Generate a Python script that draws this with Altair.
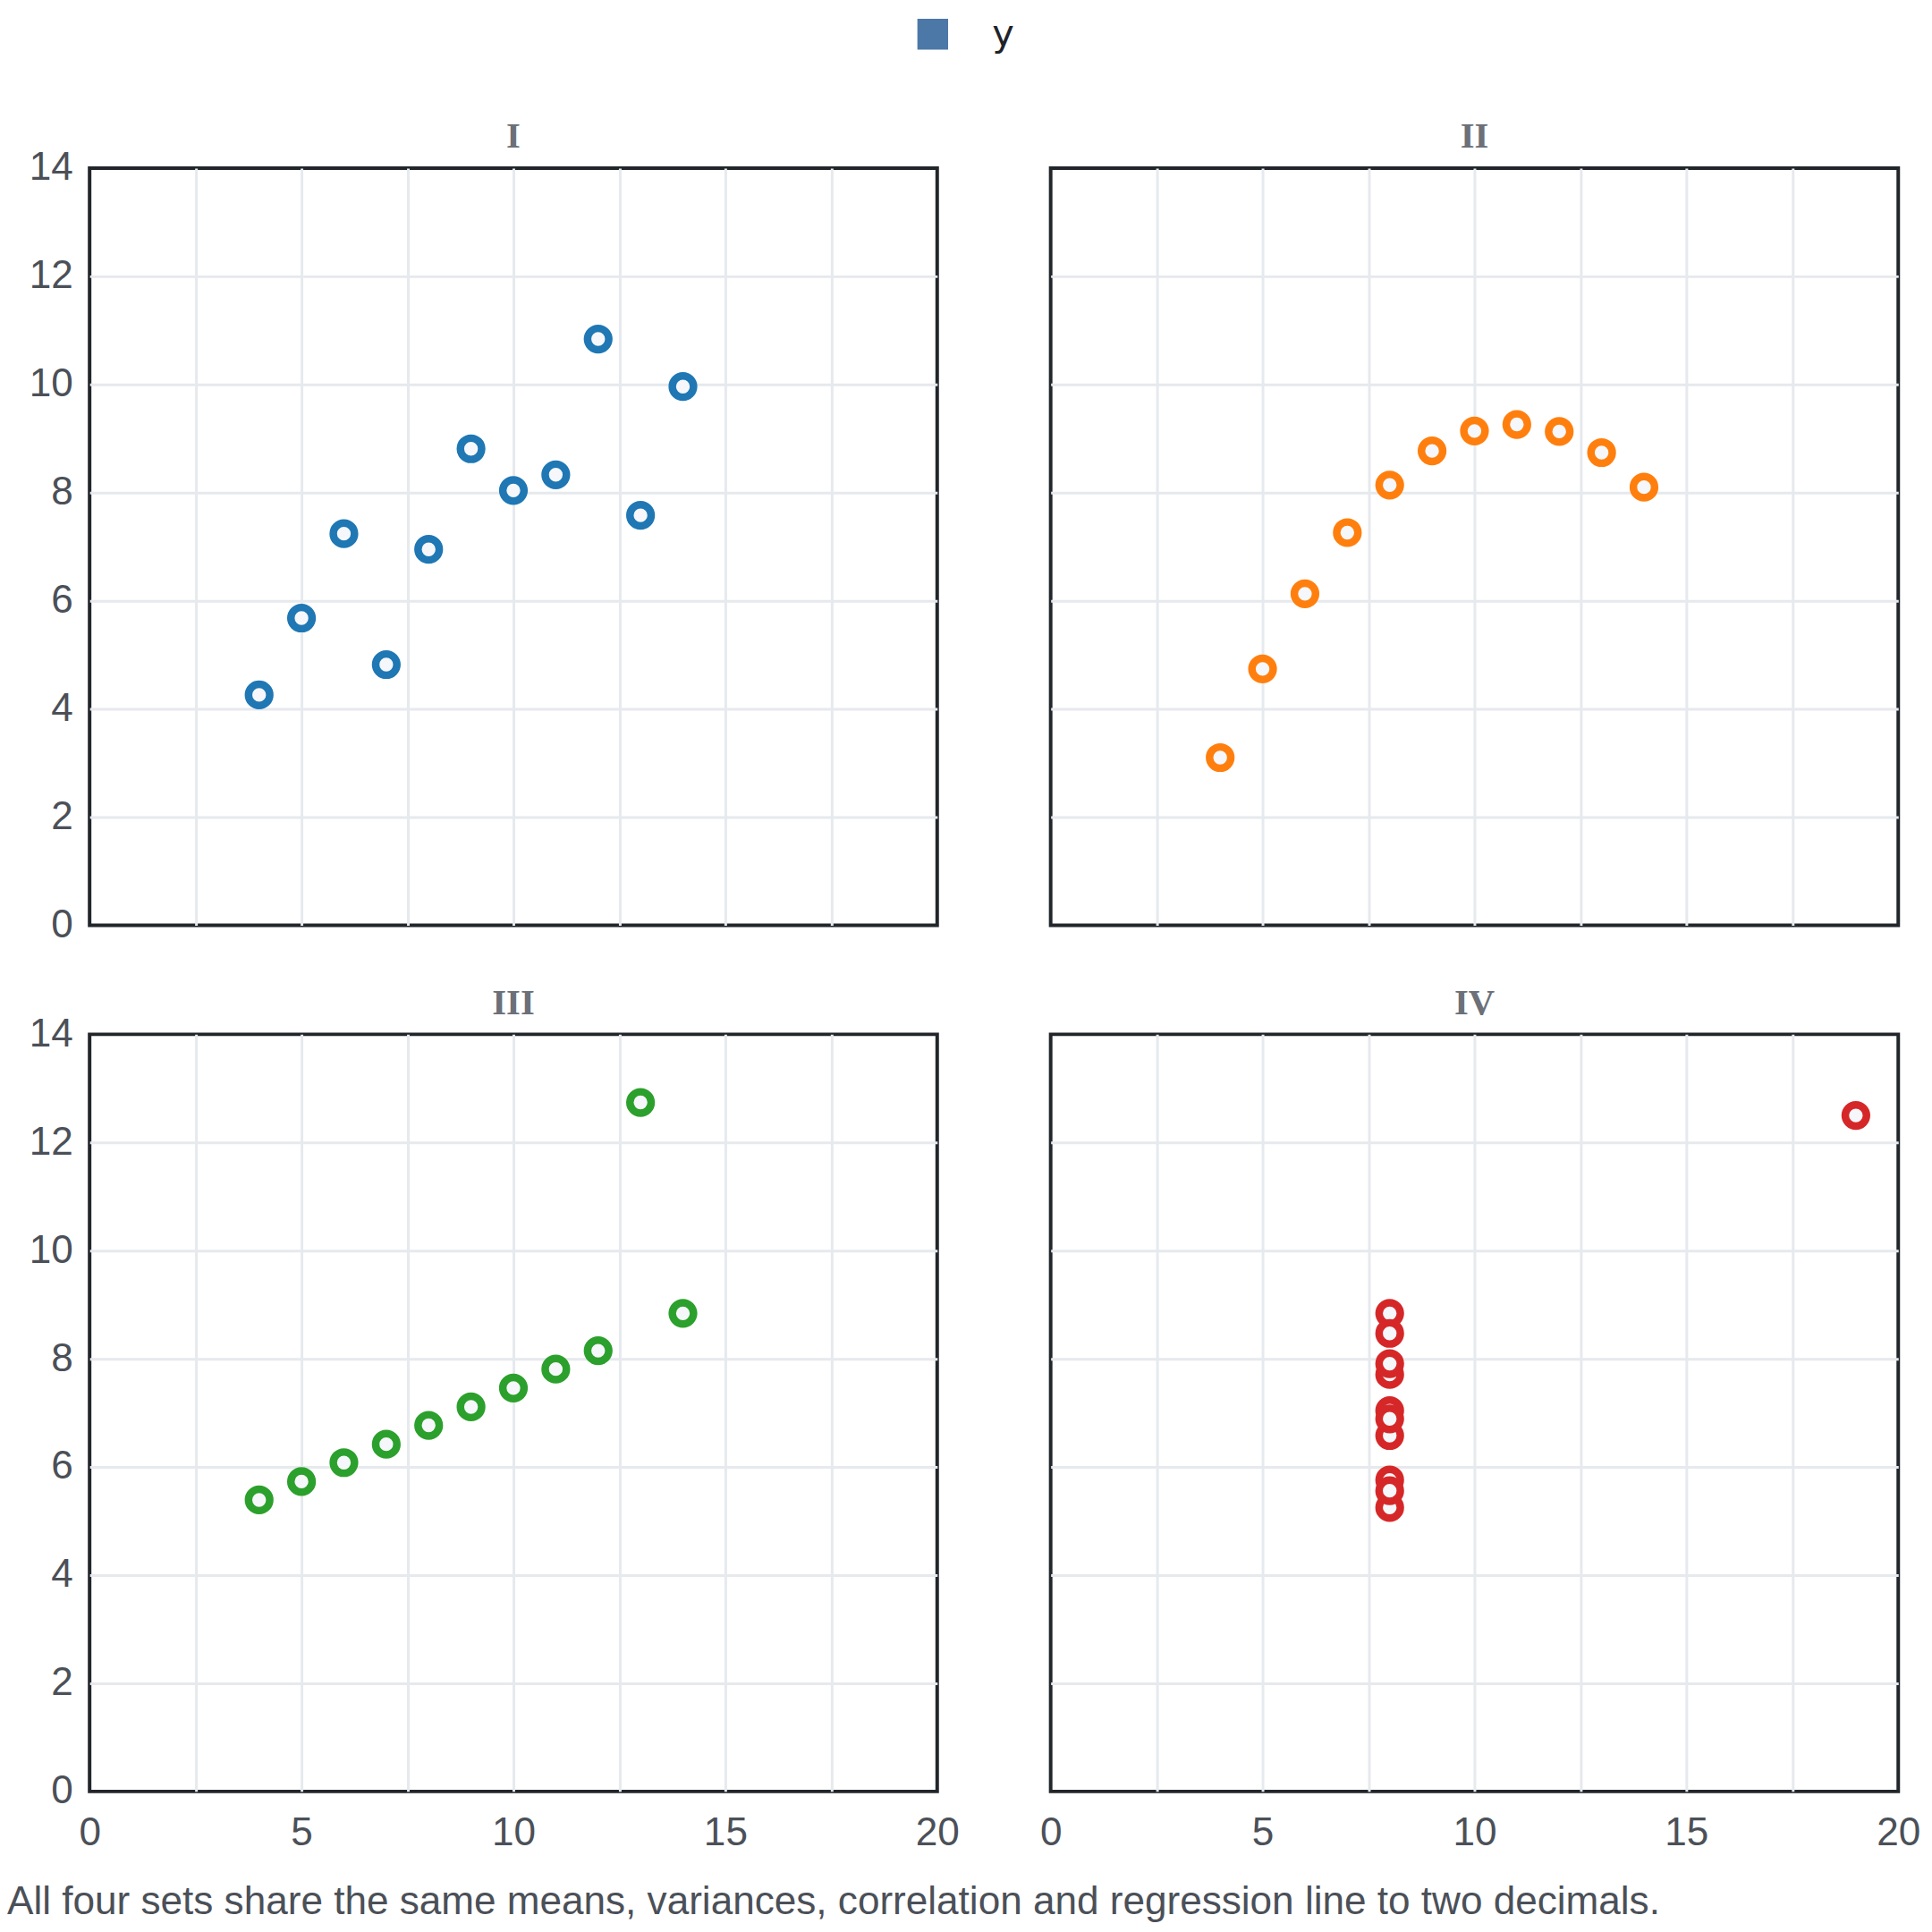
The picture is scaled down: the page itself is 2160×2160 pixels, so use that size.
import altair as alt
import pandas as pd

sets = ["I", "II", "III", "IV"]
x_123 = [10, 8, 13, 9, 11, 14, 6, 4, 12, 7, 5]
x_4 = [8, 8, 8, 8, 8, 8, 8, 19, 8, 8, 8]
y_1 = [8.04, 6.95, 7.58, 8.81, 8.33, 9.96, 7.24, 4.26, 10.84, 4.82, 5.68]
y_2 = [9.14, 8.14, 8.74, 8.77, 9.26, 8.10, 6.13, 3.10, 9.13, 7.26, 4.74]
y_3 = [7.46, 6.77, 12.74, 7.11, 7.81, 8.84, 6.08, 5.39, 8.15, 6.42, 5.73]
y_4 = [6.58, 5.76, 7.71, 8.84, 8.47, 7.04, 5.25, 12.50, 5.56, 7.91, 6.89]
set_colors = ["#1f77b4", "#ff7f0e", "#2ca02c", "#d62728"]
footer = "All four sets share the same means, variances, correlation and regression line to two decimals."

rows = []
for s, xs, ys, c in zip(sets, [x_123, x_123, x_123, x_4], [y_1, y_2, y_3, y_4], set_colors):
    for xv, yv in zip(xs, ys):
        rows.append({"set": s, "x": xv, "y": yv, "col": c, "series": "y"})
df = pd.DataFrame(rows)

x_grid = [0, 2.5, 5, 7.5, 10, 12.5, 15, 17.5, 20]
y_grid = [0, 2, 4, 6, 8, 10, 12, 14]

base = alt.Chart(df).mark_point(
    filled=True, fill="#f5f7fa", strokeWidth=8.5, size=576, opacity=1
).encode(
    x=alt.X("x:Q", scale=alt.Scale(domain=[0, 20], nice=False),
            axis=alt.Axis(values=x_grid, title=None,
                          labelExpr="datum.value % 5 == 0 ? datum.label : ''",
                          gridOpacity={"condition": {"test": "datum.value == 0 || datum.value == 20", "value": 0}, "value": 1})),
    y=alt.Y("y:Q", scale=alt.Scale(domain=[0, 14], nice=False),
            axis=alt.Axis(values=y_grid, title=None,
                          gridOpacity={"condition": {"test": "datum.value == 0 || datum.value == 14", "value": 0}, "value": 1})),
    color=alt.Color("series:N", scale=alt.Scale(range=["#4c78a8"]),
                    legend=alt.Legend(title=None, orient="none", legendX=930, legendY=-172,
                                      direction="horizontal", symbolType="square",
                                      symbolSize=1100, symbolStrokeColor="#4c78a8",
                                      labelFont="DejaVu Sans", labelFontSize=42,
                                      labelColor="#1f2329", labelOffset=46)),
    stroke=alt.Stroke("col:N", scale=None),
).properties(width=956, height=854)

chart = base.facet(
    facet=alt.Facet("set:N", sort=sets,
                    header=alt.Header(title=None, labelFont="Liberation Serif",
                                      labelFontWeight="bold", labelFontSize=41,
                                      labelColor="#6b7079", labelPadding=14)),
    columns=2,
    spacing={"column": 124, "row": 63},
).properties(
    padding={"left": 0, "top": 0, "right": 5, "bottom": 5},
    title=alt.TitleParams(footer, orient="bottom", anchor="start", font="Liberation Sans",
                          fontSize=44.5, fontWeight="normal", color="#4b5058", offset=35)
).configure_view(
    stroke="#22262b", strokeWidth=4
).configure_axis(
    domain=False, ticks=False, grid=True, gridColor="#e6e9ed", gridWidth=3,
    labelFont="Liberation Sans", labelFontSize=44.5, labelColor="#4b5058",
    labelFlush=False, labelOverlap=False
).configure_axisX(
    labelPadding=23
).configure_axisY(
    labelPadding=17, minExtent=91
)

chart.save("out.html", embed_options={"renderer": "svg", "actions": False})
